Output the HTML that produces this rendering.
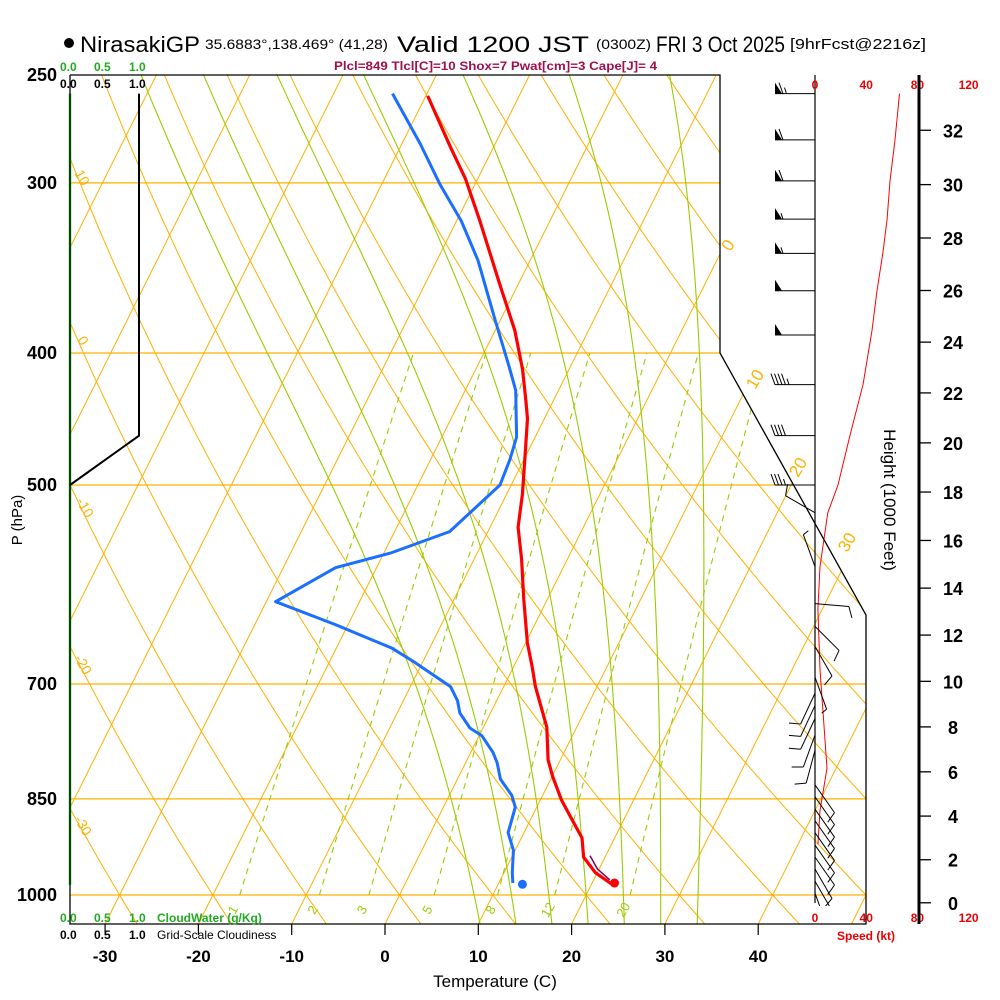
<!DOCTYPE html>
<html><head><meta charset="utf-8"><style>
html,body{margin:0;padding:0;background:#fff;}
svg{display:block;font-family:"Liberation Sans",sans-serif;}
</style></head><body>
<svg id="chart" width="1000" height="1000" viewBox="0 0 1000 1000" xmlns="http://www.w3.org/2000/svg">
<defs><clipPath id="plotclip"><polygon points="70,75 720,75 720,353 866,615 866,924 70,924"/></clipPath>
<clipPath id="barbclip"><rect x="740" y="60" width="180" height="846"/></clipPath></defs>
<rect width="1000" height="1000" fill="#fff"/>
<g>
<circle cx="69" cy="43" r="5" fill="#000"/>
<text x="80" y="52" font-size="22" textLength="120" lengthAdjust="spacingAndGlyphs">NirasakiGP</text>
<text x="205" y="49" font-size="14" textLength="183" lengthAdjust="spacingAndGlyphs">35.6883°,138.469° (41,28)</text>
<text x="397" y="52" font-size="22" textLength="192" lengthAdjust="spacingAndGlyphs">Valid 1200 JST</text>
<text x="596" y="49" font-size="14" textLength="55" lengthAdjust="spacingAndGlyphs">(0300Z)</text>
<text x="656" y="52" font-size="22" textLength="129" lengthAdjust="spacingAndGlyphs">FRI 3 Oct 2025</text>
<text x="790" y="49" font-size="15" textLength="136" lengthAdjust="spacingAndGlyphs">[9hrFcst@2216z]</text>
</g>
<text x="334" y="70" font-size="12" font-weight="bold" fill="#a0104c" textLength="323" lengthAdjust="spacingAndGlyphs">Plcl=849 Tlcl[C]=10 Shox=7 Pwat[cm]=3 Cape[J]= 4</text>
<g id="grid" clip-path="url(#plotclip)"></g>
<g id="profiles" clip-path="url(#plotclip)"></g>
<g id="overlay"></g>
<g id="barbs" clip-path="url(#barbclip)"></g>
<polyline points="70,75 720,75 720,353 866,615 866,924 70,924 70,75" fill="none" stroke="#000" stroke-width="1.3"/>
<g font-size="12" font-weight="bold">
<text x="60" y="71" fill="#22aa22">0.0</text><text x="94" y="71" fill="#22aa22">0.5</text><text x="129" y="71" fill="#22aa22">1.0</text>
<text x="60" y="88" fill="#000">0.0</text><text x="94" y="88" fill="#000">0.5</text><text x="129" y="88" fill="#000">1.0</text>
</g>
<g font-size="12" font-weight="bold">
<text x="60" y="922" fill="#22aa22">0.0</text><text x="94" y="922" fill="#22aa22">0.5</text><text x="129" y="922" fill="#22aa22">1.0</text>
<text x="157" y="922" fill="#22aa22">CloudWater (g/Kg)</text>
<text x="60" y="939" fill="#000">0.0</text><text x="94" y="939" fill="#000">0.5</text><text x="129" y="939" fill="#000">1.0</text>
<text x="157" y="939" fill="#000" font-weight="normal">Grid-Scale Cloudiness</text>
</g>
<text transform="translate(22,520) rotate(-90)" text-anchor="middle" font-size="15">P (hPa)</text>
<text x="495" y="987" text-anchor="middle" font-size="17">Temperature (C)</text>
<text transform="translate(884,500) rotate(90)" text-anchor="middle" font-size="17">Height (1000 Feet)</text>
<text x="837" y="940" font-size="12" font-weight="bold" fill="#e00">Speed (kt)</text>
</svg>
<script>
// ---- data ----
const pressureLabels = [250,300,400,500,700,850,1000];
const tempTicks = [-30,-20,-10,0,10,20,30,40];
const heightTicks = [0,2,4,6,8,10,12,14,16,18,20,22,24,26,28,30,32];
const speedTicks = [0,40,80,120];
const tempP = [982,963,938,908,881,852,819,796,753,735,703,680,653,607,567,537,508,479,447,433,411,385,356,320,298,282,259];
const tempC = [22.2,19.8,17.7,16.5,14.5,12.3,10.1,8.7,6.8,5.6,3.4,2.0,0.2,-2.5,-4.9,-7.0,-8.3,-9.9,-11.8,-13.0,-15.0,-17.9,-22.0,-27.5,-31.3,-34.7,-39.8];
const dewP = [980,963,927,900,862,845,822,800,786,764,754,735,720,703,674,659,633,609,575,561,541,500,479,461,426,409,378,342,320,301,281,258];
const dewC = [11.5,10.9,9.8,8.3,7.7,6.7,4.6,3.4,2.4,0.3,-1.4,-3.3,-4.2,-5.7,-11.0,-14.0,-21.4,-29.0,-24.4,-19.3,-14.1,-11.2,-11.5,-12.0,-14.6,-16.6,-20.6,-25.6,-29.5,-33.7,-38.0,-43.7];
const parcelP = [939,960,978];
const parcelC = [18.1,19.6,21.5];
const sfcTempP = 980, sfcTempC = 22.4;
const sfcDewP = 982, sfcDewC = 12.6;
const isotherms = [-80,-70,-60,-50,-40,-30,-20,-10,0,10,20,30,40,50];
const dryAdiabats = [-40,-30,-20,-10,0,10,20,30,40,50,60,70,80,90,100,110,120];
const moistAdiabats = [8,12,16,20,24,28,32];
const mixRatios = [1,2,3,5,8,12,20];
const windP = [258,279,299,319,338,360,388,422,460,500,524,574,611,635,657,692,711,726,742,763,783,830,847,865,882,900,919,938,957,977,997];
const windDir = [270,270,270,270,270,270,270,270,270,270,300,340,95,135,150,160,205,205,205,200,195,145,145,145,145,145,145,145,150,150,160];
const windSpd = [65,60,60,55,55,50,50,45,40,35,10,5,10,10,10,5,10,10,10,10,10,10,10,10,10,10,10,10,10,5,5];
const speedP = [258,279,299,319,338,360,385,422,460,500,524,574,617,683,807,867,918];
const speedKt = [66,62.5,58.6,56.3,53,48.4,44.5,37.5,27.3,18,10,3.9,2.3,3.9,9.4,3.9,2.3];
const cloudP = [258,460,500];
const cloudFrac = [1,1,0];
const cloudWaterP = [258,983];
const cloudWater = [0,0];

// ---- axes ----
const X0=385, KX=9.33, SK=0.5, YB=924, Y1000=895, KY=591.5;
function py(p){return Y1000-KY*Math.log(1000/p);}
function tx(T,p){return X0+KX*T+SK*(YB-py(p));}
function sx(s){return 815+1.28*s;}
function cx(v){return 70+69*v;}
function stdP(hkft){return 1013.25*Math.pow(1-6.8756e-6*hkft*1000,5.2559);}
const NS='http://www.w3.org/2000/svg';
function mk(tag,attrs,parent){const e=document.createElementNS(NS,tag);for(const k in attrs)e.setAttribute(k,attrs[k]);parent.appendChild(e);return e;}
const grid=document.getElementById('grid'), prof=document.getElementById('profiles'), ov=document.getElementById('overlay'), bg=document.getElementById('barbs');
const ORANGE='#ffb000', GREEN='#99cc00';
function pathFrom(pts){return pts.map((q,i)=>(i?'L':'M')+q[0].toFixed(1)+','+q[1].toFixed(1)).join('');}

pressureLabels.forEach(p=>{
  if(p===250) return;
  const y=py(p);
  const l=mk('line',{x1:70,x2:870,y1:y,y2:y,stroke:ORANGE,'stroke-width':1.3},grid);
  
  
});
isotherms.forEach(T=>{
  const l=mk('line',{x1:tx(T,1050),y1:py(1050),x2:tx(T,240),y2:py(240),stroke:ORANGE,'stroke-width':1},grid);
  
  
});
dryAdiabats.forEach(th=>{
  const pts=[];
  for(let p=1050;p>=240;p-=10){const T=(th+273.15)*Math.pow(p/1000,0.2857)-273.15;pts.push([tx(T,p),py(p)]);}
  const e=mk('path',{d:pathFrom(pts),fill:'none',stroke:ORANGE,'stroke-width':1},grid);
  
  
});
function es(T){return 6.112*Math.exp(17.67*T/(T+243.5));}
function rs(T,p){const e=es(T);return 0.622*e/(p-e);}
function dTdp(T,p){const Tk=T+273.15,r=rs(T,p),Lv=2.501e6,Rd=287.04,cp=1005.7;return (Rd*Tk+Lv*r)/(cp+Lv*Lv*r*0.622/(Rd*Tk*Tk))/p;}
function integ(T0,p0,p1,dp){const pts=[];let T=T0,p=p0;pts.push([p,T]);
  while((dp<0&&p>p1)||(dp>0&&p<p1)){const k1=dTdp(T,p);const k2=dTdp(T+k1*dp,p+dp);T+=0.5*(k1+k2)*dp;p+=dp;pts.push([p,T]);}return pts;}
moistAdiabats.forEach(t0=>{
  const up=integ(t0,1000,245,-5), dn=integ(t0,1000,1050,5);
  const all=dn.reverse().concat(up.slice(1));
  const e=mk('path',{d:pathFrom(all.map(q=>[tx(q[1],q[0]),py(q[0])])),fill:'none',stroke:GREEN,'stroke-width':1.1},grid);
  
  
});
function tdFromW(w,p){const e=w*p/(622+w);const a=Math.log(e/6.112);return 243.5*a/(17.67-a);}
mixRatios.forEach(w=>{
  const pts=[];for(let p=1000;p>=400;p-=10)pts.push([tx(tdFromW(w,p),p),py(p)]);
  const e=mk('path',{d:pathFrom(pts),fill:'none',stroke:GREEN,'stroke-width':1.1,'stroke-dasharray':'6,5'},grid);
  
  
  const lx=tx(tdFromW(w,1000),1000)-3;
  const t=mk('text',{x:0,y:0,transform:'translate('+lx+',912) rotate(-60)','font-size':13,fill:GREEN,'text-anchor':'middle'},ov);
  t.textContent=String(w);
  
  
});
[[0,733,248],[10,760,382],[20,803,470],[30,852,545]].forEach(a=>{
  const t=mk('text',{transform:'translate('+a[1]+','+a[2]+') rotate(-60)','font-size':17,fill:ORANGE,'text-anchor':'middle'},ov);
  t.textContent=String(a[0]);
  
  
});
[[10,78,180],[0,79,343],[-10,81,510],[-20,79,667],[-30,79,828]].forEach(a=>{
  const t=mk('text',{transform:'translate('+a[1]+','+a[2]+') rotate(60)','font-size':14,fill:ORANGE,'text-anchor':'middle'},ov);
  t.textContent=String(a[0]);
  
  
});
(function(){
  let e=mk('path',{d:pathFrom(cloudWaterP.map((p,i)=>[cx(cloudWater[i]),py(p)])),fill:'none',stroke:'#22bb22','stroke-width':2.5},ov);
  
  
  e=mk('path',{d:pathFrom(cloudP.map((p,i)=>[cx(cloudFrac[i]),py(p)])),fill:'none',stroke:'#000','stroke-width':2},ov);
  
  
})();
(function(){
  let e=mk('path',{d:pathFrom(dewP.map((p,i)=>[tx(dewC[i],p),py(p)])),fill:'none',stroke:'#1a6fff','stroke-width':3,'stroke-linejoin':'round'},prof);
  
  
  e=mk('path',{d:pathFrom(tempP.map((p,i)=>[tx(tempC[i],p),py(p)])),fill:'none',stroke:'#ff0000','stroke-width':3.2,'stroke-linejoin':'round'},prof);
  
  
  e=mk('path',{d:pathFrom(parcelP.map((p,i)=>[tx(parcelC[i],p)+3,py(p)-2])),fill:'none',stroke:'#800060','stroke-width':1.5},prof);
  
  
  e=mk('circle',{cx:tx(sfcTempC,sfcTempP),cy:py(sfcTempP),r:4.5,fill:'#ff0000'},prof);
  
  
  e=mk('circle',{cx:tx(sfcDewC,sfcDewP),cy:py(sfcDewP),r:4.5,fill:'#1a6fff'},prof);
  
  
})();
pressureLabels.forEach(p=>{
  const t=mk('text',{x:57,y:py(p)+6,'text-anchor':'end','font-size':18,'font-weight':'bold'},ov);
  t.textContent=String(p);
  
  
});
tempTicks.forEach(T=>{
  const x=X0+KX*T;
  const l=mk('line',{x1:x,x2:x,y1:924,y2:935,stroke:'#000','stroke-width':1.2},ov);
  
  
  const t=mk('text',{x:x,y:962,'text-anchor':'middle','font-size':17,'font-weight':'bold'},ov);
  t.textContent=String(T);
  
  
});
(function(){
  let e=mk('line',{x1:815,x2:815,y1:75,y2:903,stroke:'#000','stroke-width':1.2},ov);
  
  
  speedTicks.forEach(s=>{
    let t=mk('text',{x:sx(s),y:89,'text-anchor':'middle','font-size':12,'font-weight':'bold',fill:'#e00'},ov);
    t.textContent=String(s);
    
    
    t=mk('text',{x:sx(s),y:922,'text-anchor':'middle','font-size':12,'font-weight':'bold',fill:'#e00'},ov);
    t.textContent=String(s);
    
    
  });
  e=mk('path',{d:pathFrom(speedP.map((p,i)=>[sx(speedKt[i]),py(p)])),fill:'none',stroke:'#ff0000','stroke-width':1},ov);
  
  
})();
(function(){
  let e=mk('line',{x1:919,x2:919,y1:75,y2:924,stroke:'#000','stroke-width':3},ov);
  
  
  heightTicks.forEach(h=>{
    const y=py(stdP(h));
    const l=mk('line',{x1:919,x2:931,y1:y,y2:y,stroke:'#000','stroke-width':1.3},ov);
    
    
    const t=mk('text',{x:953,y:y+7,'text-anchor':'middle','font-size':18,'font-weight':'bold'},ov);
    t.textContent=String(h);
    
    
  });
})();
windP.forEach((p,i)=>{
  const g=mk('g',{},bg);
  
  
  const bx=815, by=py(p), L=(windSpd[i]>=30?40:34);
  const a=windDir[i]*Math.PI/180, ux=Math.sin(a), uy=-Math.cos(a);
  const ex=bx+ux*L, ey=by+uy*L;
  mk('line',{x1:bx,y1:by,x2:ex,y2:ey,stroke:'#000','stroke-width':1},g);
  const px=-uy, pyy=ux;
  let s=windSpd[i], pos=0;
  while(s>=50){
    const x1=ex-ux*pos, y1=ey-uy*pos, x2=ex-ux*(pos+7), y2=ey-uy*(pos+7);
    mk('polygon',{points:x1+','+y1+' '+(x1+px*11)+','+(y1+pyy*11)+' '+x2+','+y2,fill:'#000'},g);
    pos+=8; s-=50;
  }
  while(s>=10){
    const x1=ex-ux*pos, y1=ey-uy*pos;
    mk('line',{x1:x1,y1:y1,x2:x1+px*11+ux*4,y2:y1+pyy*11+uy*4,stroke:'#000','stroke-width':1},g);
    pos+=3.5; s-=10;
  }
  if(s>=5){
    const x1=ex-ux*pos, y1=ey-uy*pos;
    mk('line',{x1:x1,y1:y1,x2:x1+px*6+ux*2,y2:y1+pyy*6+uy*2,stroke:'#000','stroke-width':1},g);
  }
});
</script>
</body></html>
